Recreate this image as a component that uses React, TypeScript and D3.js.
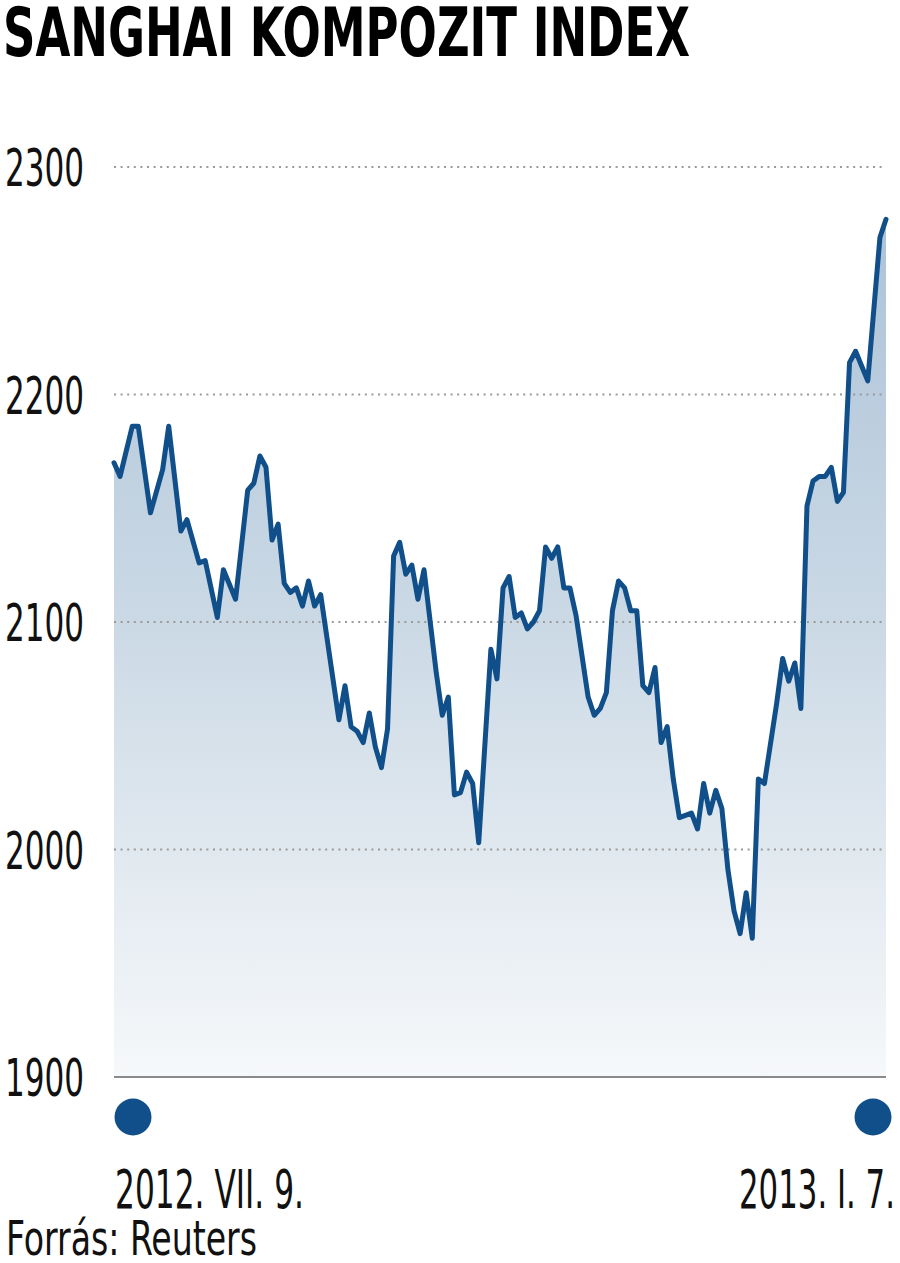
import React from "react";
import * as d3 from "d3";

const TITLE = "SANGHAI KOMPOZIT INDEX";
const SOURCE = "Forrás: Reuters";
const START_LABEL = "2012. VII. 9.";
const END_LABEL = "2013. I. 7.";
const Y_TICKS = [1900, 2000, 2100, 2200, 2300];

// trading-day index since 2012-07-09
const days = [0,1,3,4,6,8,9,11,12,14,15,17,18,20,22,23,24,25,26,27,28,29,30,31,32,33,34,37,38,39,40,41,42,43,44,45,46,47,48,49,50,51,53,54,55,56,57,58,59,60,62,63,64,65,66,67,68,69,70,71,72,73,74,75,76,78,79,80,81,82,83,84,85,86,87,88,89,90,91,92,93,95,96,97,98,99,100,101,102,103,104,105,106,107,109,110,111,112,113,114,115,116,117,118,119,120,121,122,124,126,127];
const values = [2170,2164,2186,2186,2148,2167,2186,2140,2145,2126,2127,2102,2123,2110,2158,2161,2173,2168,2136,2143,2117,2113,2115,2107,2118,2107,2112,2057,2072,2054,2052,2047,2060,2045,2036,2053,2129,2135,2121,2125,2110,2123,2078,2059,2067,2024,2025,2034,2029,2003,2088,2075,2115,2120,2102,2104,2097,2100,2105,2133,2128,2133,2115,2115,2103,2067,2059,2062,2069,2105,2118,2115,2105,2105,2072,2069,2080,2047,2054,2031,2014,2016,2009,2029,2016,2026,2018,1991,1973,1963,1981,1961,2031,2029,2064,2084,2074,2082,2062,2151,2162,2164,2164,2168,2153,2157,2214,2219,2206,2269,2277];

const W = 900;
const H = 1263;
const LINE = "#104f89";
const FONT = "'Liberation Sans Narrow', 'DejaVu Sans Condensed', 'Liberation Sans', sans-serif";

export default function App() {
  const x = d3.scaleLinear().domain([0, 127]).range([114, 886]);
  const y = d3.scaleLinear().domain([1900, 2300]).range([1077, 167]);
  const data = days.map((d, i) => ({ d, v: values[i] }));
  const line = d3.line<any>().x((p) => x(p.d)).y((p) => y(p.v));
  const area = d3
    .area<any>()
    .x((p) => x(p.d))
    .y0(y(1900))
    .y1((p) => y(p.v));

  return (
    <svg
      width={W}
      height={H}
      style={{ position: "absolute", left: 0, top: 0, background: "#fff" }}
    >
      <defs>
        <linearGradient id="fillGrad" gradientUnits="userSpaceOnUse" x1="0" y1={y(2300)} x2="0" y2={y(1900)}>
          <stop offset="0" stopColor="#a9c0d6" />
          <stop offset="0.5" stopColor="#cbd9e5" />
          <stop offset="1" stopColor="#f6f8fa" />
        </linearGradient>
      </defs>
      <text
        x={3}
        y={56}
        fontFamily={FONT}
        fontWeight="bold"
        fontSize={68}
        textLength={687}
        lengthAdjust="spacingAndGlyphs"
        fill="#000"
      >
        {TITLE}
      </text>
      <path d={area(data) || ""} fill="url(#fillGrad)" />
      {Y_TICKS.filter((t) => t > 1900).map((t) => (
        <line
          key={t}
          x1={114}
          x2={886}
          y1={y(t)}
          y2={y(t)}
          stroke="#9a9a9a"
          strokeWidth={2}
          strokeDasharray="2 4.6"
        />
      ))}
      <line x1={114} x2={886} y1={y(1900)} y2={y(1900)} stroke="#8a8a8a" strokeWidth={2} />
      {Y_TICKS.map((t) => (
        <text
          key={t}
          x={5}
          y={y(t) + 19}
          fontFamily={FONT}
          fontSize={52}
          textLength={79}
          lengthAdjust="spacingAndGlyphs"
          fill="#111"
        >
          {t}
        </text>
      ))}
      <path
        d={line(data) || ""}
        fill="none"
        stroke={LINE}
        strokeWidth={5}
        strokeLinejoin="round"
        strokeLinecap="round"
      />
      <circle cx={x(0) + 19} cy={1117} r={18.5} fill={LINE} />
      <circle cx={x(127) - 13} cy={1117} r={18.5} fill={LINE} />
      <text
        x={115}
        y={1208}
        fontFamily={FONT}
        fontSize={54}
        textLength={189}
        lengthAdjust="spacingAndGlyphs"
        fill="#111"
      >
        {START_LABEL}
      </text>
      <text
        x={739}
        y={1208}
        fontFamily={FONT}
        fontSize={54}
        textLength={156}
        lengthAdjust="spacingAndGlyphs"
        fill="#111"
      >
        {END_LABEL}
      </text>
      <text
        x={6}
        y={1255}
        fontFamily={FONT}
        fontSize={48}
        textLength={251}
        lengthAdjust="spacingAndGlyphs"
        fill="#111"
      >
        {SOURCE}
      </text>
    </svg>
  );
}
